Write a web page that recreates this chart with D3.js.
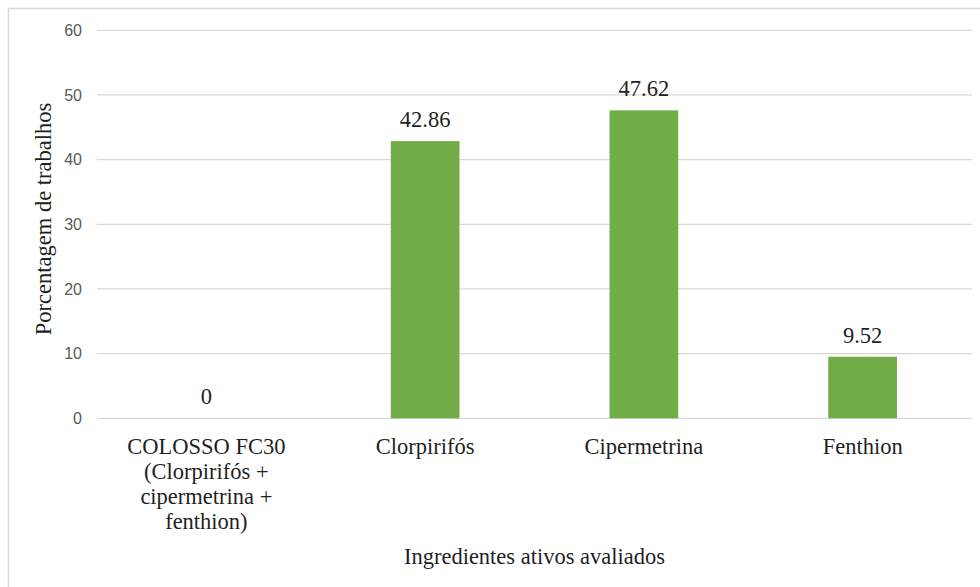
<!DOCTYPE html>
<html>
<head>
<meta charset="utf-8">
<script src="https://cdn.jsdelivr.net/npm/d3@7"></script>
<style>
  html, body { margin: 0; padding: 0; background: #fff; overflow: hidden; }
  svg { display: block; }
</style>
</head>
<body>
<svg id="chart" width="980" height="587"></svg>
<script>
// Active ingredients evaluated and share of studies (%)
const categories = [
  ["COLOSSO FC30", "(Clorpirifós +", "cipermetrina +", "fenthion)"],
  ["Clorpirifós"],
  ["Cipermetrina"],
  ["Fenthion"]
];
const values = [0, 42.86, 47.62, 9.52];
const yTicks = [0, 10, 20, 30, 40, 50, 60];
const yTitle = "Porcentagem de trabalhos";
const xTitle = "Ingredientes ativos avaliados";

const SERIF = "Liberation Serif";
const SANS = "Liberation Sans";
const INK = "#1f1f1f";
const TEXT_SIZE = 22.5;

const svg = d3.select("#chart");

// chart area frame
svg.append("rect")
  .attr("x", 8.5).attr("y", 8.5)
  .attr("width", 1000).attr("height", 1000)
  .attr("fill", "#fff")
  .attr("stroke", "#d9d9d9")
  .attr("stroke-width", 1.5);

const plot = { left: 97, right: 972, top: 30.3, bottom: 418.3 };
const keys = categories.map((_, i) => i);

const x = d3.scaleBand()
  .domain(keys)
  .range([plot.left, plot.right])
  .paddingInner(0.686)
  .paddingOuter(0.343);

const y = d3.scaleLinear()
  .domain([0, 60])
  .range([plot.bottom, plot.top]);

// horizontal gridlines
svg.append("g")
  .selectAll("line")
  .data(yTicks)
  .join("line")
  .attr("x1", plot.left).attr("x2", plot.right)
  .attr("y1", d => y(d)).attr("y2", d => y(d))
  .attr("stroke", "#d9d9d9")
  .attr("stroke-width", 1.2);

// y axis tick labels
const yAxis = d3.axisLeft(y).tickValues(yTicks).tickSize(0).tickPadding(15);
const gy = svg.append("g")
  .attr("transform", `translate(${plot.left},0)`)
  .call(yAxis)
  .attr("font-family", SANS)
  .attr("font-size", 16);
gy.select(".domain").remove();
gy.selectAll("text").attr("fill", "#595959");

// bars
svg.append("g")
  .selectAll("rect")
  .data(values)
  .join("rect")
  .attr("x", (d, i) => x(i))
  .attr("width", x.bandwidth())
  .attr("y", d => y(d))
  .attr("height", d => y(0) - y(d))
  .attr("fill", "#70ad47");

// value labels
svg.append("g")
  .attr("font-family", SERIF)
  .attr("font-size", TEXT_SIZE)
  .attr("fill", INK)
  .attr("text-anchor", "middle")
  .selectAll("text")
  .data(values)
  .join("text")
  .attr("x", (d, i) => x(i) + x.bandwidth() / 2)
  .attr("y", d => y(d) - 14)
  .text(d => d3.format("")(d));

// category labels
const xAxis = d3.axisBottom(x).tickSize(0).tickFormat(() => "");
const gx = svg.append("g")
  .attr("transform", `translate(0,${plot.bottom})`)
  .call(xAxis)
  .attr("font-family", SERIF)
  .attr("font-size", TEXT_SIZE);
gx.select(".domain").remove();
gx.selectAll(".tick text").remove();
gx.selectAll(".tick").each(function(i) {
  const t = d3.select(this).append("text")
    .attr("text-anchor", "middle")
    .attr("fill", INK);
  categories[i].forEach((line, k) => {
    t.append("tspan")
      .attr("x", 0)
      .attr("y", 36 + k * 25)
      .text(line);
  });
});

// axis titles
svg.append("text")
  .attr("transform", "translate(51,219) rotate(-90)")
  .attr("text-anchor", "middle")
  .attr("font-family", SERIF)
  .attr("font-size", TEXT_SIZE)
  .attr("fill", INK)
  .text(yTitle);

svg.append("text")
  .attr("x", 534.5)
  .attr("y", 564)
  .attr("text-anchor", "middle")
  .attr("font-family", SERIF)
  .attr("font-size", TEXT_SIZE)
  .attr("fill", INK)
  .text(xTitle);
</script>
</body>
</html>
